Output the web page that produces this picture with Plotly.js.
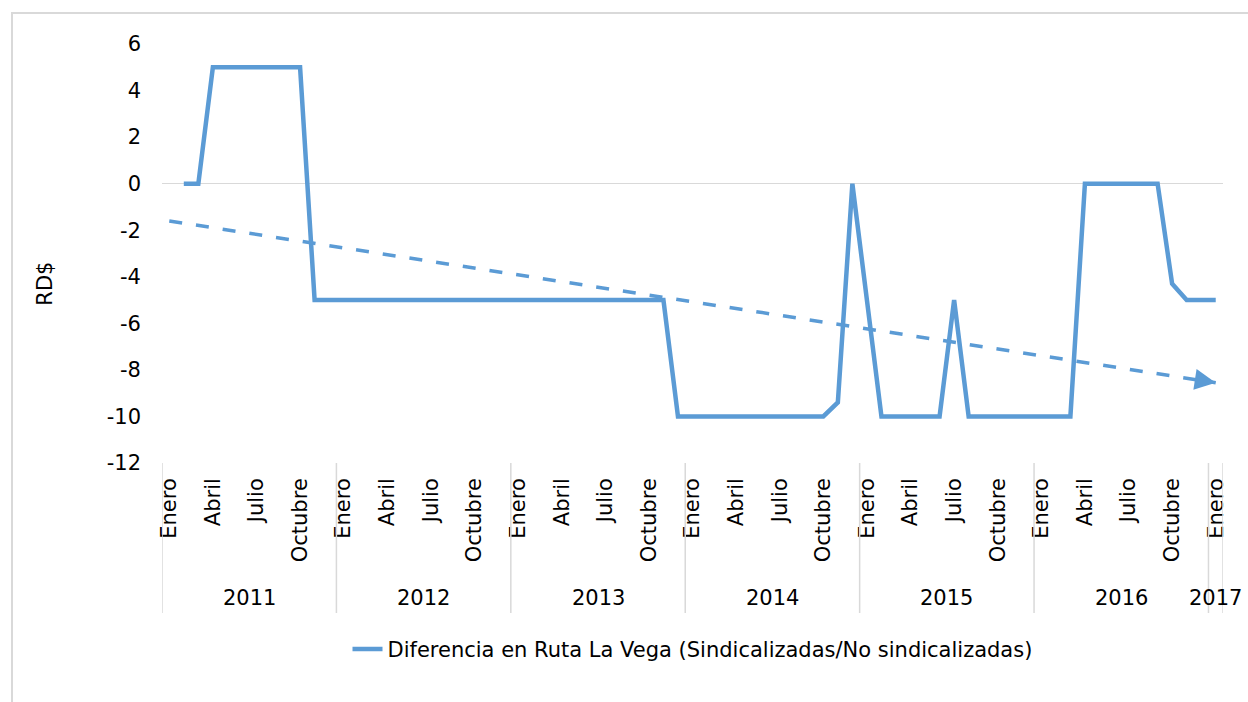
<!DOCTYPE html>
<html>
<head>
<meta charset="utf-8">
<script src="https://cdn.plot.ly/plotly-3.0.1.min.js"></script>
<style>
  html, body { margin: 0; padding: 0; background: #fff; }
  #wrap { position: relative; width: 1248px; height: 702px; overflow: hidden; }
  #chart { position: absolute; left: 0; top: 0; width: 1248px; height: 702px; }
  #frame { position: absolute; left: 11px; top: 12px; width: 1300px; height: 800px;
           border-left: 2px solid #d9d9d9; border-top: 2px solid #d9d9d9; pointer-events: none; }
</style>
</head>
<body>
<div id="wrap">
  <div id="chart"></div>
  <div id="frame"></div>
</div>
<script>
// ---- data ----
const years = ['2011', '2012', '2013', '2014', '2015', '2016', '2017'];
const monthNames = ['Enero', 'Febrero', 'Marzo', 'Abril', 'Mayo', 'Junio', 'Julio',
                    'Agosto', 'Septiembre', 'Octubre', 'Noviembre', 'Diciembre'];
const monthsPerYear = [12, 12, 12, 12, 12, 12, 1];
const shownMonths = ['Enero', 'Abril', 'Julio', 'Octubre'];

const values2011 = [null, 0, 0, 5, 5, 5, 5, 5, 5, 5, -5, -5];
const values2012 = [-5, -5, -5, -5, -5, -5, -5, -5, -5, -5, -5, -5];
const values2013 = [-5, -5, -5, -5, -5, -5, -5, -5, -5, -5, -5, -10];
const values2014 = [-10, -10, -10, -10, -10, -10, -10, -10, -10, -10, -9.4, 0];
const values2015 = [-5, -10, -10, -10, -10, -10, -5, -10, -10, -10, -10, -10];
const values2016 = [-10, -10, -10, 0, 0, 0, 0, 0, 0, -4.3, -5, -5];
const values2017 = [-5];

const trendValues = [-1.6, -8.55];   // linear trend line, first and last month

const yTickVals = [6, 4, 2, 0, -2, -4, -6, -8, -10, -12];
const yTickText = ['6', '4', '2', '0', '-2', '-4', '-6', '-8', '-10', '-12'];

const seriesName = 'Diferencia en Ruta La Vega (Sindicalizadas/No sindicalizadas)';
const yTitle = 'RD$';

// ---- build categories ----
const categories = [];
const tickVals = [];
const tickText = [];
years.forEach((y, yi) => {
  for (let m = 0; m < monthsPerYear[yi]; m++) {
    const c = monthNames[m] + ' ' + y;
    categories.push(c);
    if (shownMonths.includes(monthNames[m])) { tickVals.push(c); tickText.push(monthNames[m]); }
  }
});
const values = [].concat(values2011, values2012, values2013, values2014, values2015, values2016, values2017);
const nCat = categories.length;

const blue = '#5b9bd5';
const font = '"DejaVu Sans", "Open Sans", sans-serif';
const txt = '#000000';
const fs = 21;

const traces = [
  {
    x: categories, y: values, type: 'scatter', mode: 'lines',
    name: seriesName,
    line: { color: blue, width: 4.5 },
    connectgaps: false
  },
  {
    x: [categories[0], categories[nCat - 1]], y: trendValues,
    type: 'scatter', mode: 'lines', showlegend: false, hoverinfo: 'skip',
    line: { color: blue, width: 3.5, dash: '13px,14px' }
  }
];

// ---- year group labels and separators ----
const shapes = [];
const annotations = [];
let start = 0;
years.forEach((y, yi) => {
  const n = monthsPerYear[yi];
  shapes.push({ type: 'line', xref: 'x', yref: 'paper', x0: start - 0.5, x1: start - 0.5,
                y0: 0, y1: -0.358, line: { color: '#d9d9d9', width: 1.5 } });
  annotations.push({ xref: 'x', yref: 'paper', x: start + (n - 1) / 2, y: -0.322,
                     text: y, showarrow: false, xanchor: 'center', yanchor: 'middle',
                     font: { family: font, size: fs, color: txt } });
  start += n;
});
shapes.push({ type: 'line', xref: 'x', yref: 'paper', x0: start - 0.5, x1: start - 0.5,
              y0: 0, y1: -0.358, line: { color: '#d9d9d9', width: 1.5 } });

// arrowhead at the end of the trend line (direction taken from the trend itself)
const tSlope = (trendValues[1] - trendValues[0]) / (nCat - 1);
annotations.push({ xref: 'x', yref: 'y', axref: 'x', ayref: 'y',
                   x: nCat - 1, y: trendValues[1],
                   ax: nCat - 2, ay: trendValues[1] - tSlope,
                   showarrow: true, arrowhead: 2, arrowsize: 1.4, arrowwidth: 3,
                   arrowcolor: blue, text: '' });

// y axis title (placed as Excel does, a little below the plot middle)
annotations.push({ xref: 'paper', yref: 'paper', x: -0.1103, y: 0.428, text: yTitle,
                   textangle: -90, showarrow: false, xanchor: 'center', yanchor: 'middle',
                   font: { family: font, size: fs, color: txt } });

const layout = {
  width: 1248, height: 702,
  margin: { l: 162, r: 25, t: 44, b: 239 },
  paper_bgcolor: '#ffffff', plot_bgcolor: '#ffffff',
  font: { family: font, size: fs, color: txt },
  showlegend: true,
  legend: { orientation: 'h', x: 0.5, xanchor: 'center', y: -0.445, yanchor: 'middle',
            font: { family: font, size: fs, color: txt }, bgcolor: 'rgba(0,0,0,0)' },
  xaxis: {
    type: 'category', categoryorder: 'array', categoryarray: categories,
    range: [-0.5, nCat - 0.5],
    tickmode: 'array', tickvals: tickVals, ticktext: tickText,
    tickangle: -90, ticks: '', ticklabelstandoff: 10,
    showgrid: false, showline: false, zeroline: false, fixedrange: true,
    tickfont: { family: font, size: fs, color: txt }
  },
  yaxis: {
    range: [-12, 6], tickmode: 'array', tickvals: yTickVals, ticktext: yTickText,
    showgrid: false, zeroline: true, zerolinecolor: '#d9d9d9', zerolinewidth: 1.5,
    showline: false, ticks: '', ticklabelstandoff: 20,
    tickfont: { family: font, size: fs, color: txt }
  },
  shapes: shapes,
  annotations: annotations
};

Plotly.newPlot('chart', traces, layout, { displayModeBar: false, staticPlot: true });
</script>
</body>
</html>
